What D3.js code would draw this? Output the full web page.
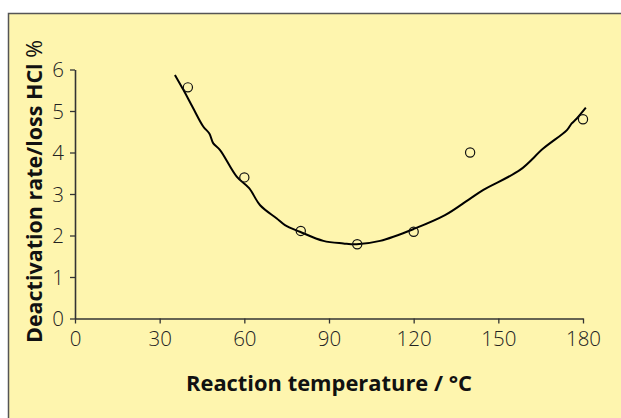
<!DOCTYPE html>
<html>
<head>
<meta charset="utf-8">
<script src="https://cdn.jsdelivr.net/npm/d3@7"></script>
<style>
  html, body { margin: 0; padding: 0; background: #ffffff; }
  svg { display: block; }
</style>
</head>
<body>
<div id="chart"></div>
<script>
// ---- data ----
const xTicks = [0, 30, 60, 90, 120, 150, 180];
const yTicks = [0, 1, 2, 3, 4, 5, 6];
const measuredTemp = [40, 60, 80, 100, 120, 140, 180];
const measuredLoss = [5.57, 3.40, 2.11, 1.79, 2.09, 4.00, 4.80];
const curveTemp = [35.4, 38.4, 41.7, 45.5, 47.6, 49.0, 51.4, 57.3, 61.7, 65.6, 71.5, 74.4, 79.7, 88.0, 95.1, 99.8, 108.1, 120.5, 131.1, 139.4, 144.7, 157.7, 166.0, 174.3, 176.0, 177.8, 181.0];
const curveLoss = [5.87, 5.51, 5.09, 4.62, 4.46, 4.22, 4.06, 3.42, 3.14, 2.73, 2.41, 2.25, 2.09, 1.87, 1.81, 1.79, 1.87, 2.17, 2.49, 2.86, 3.10, 3.58, 4.10, 4.54, 4.70, 4.82, 5.08];
const xTitle = "Reaction temperature / °C";
const yTitleBold = "Deactivation rate/loss HCl";
const yTitleRest = " %";

// ---- layout ----
const W = 621, H = 418;
const svg = d3.select("#chart").append("svg").attr("width", W).attr("height", H);

svg.append("rect")
  .attr("x", 8.5).attr("y", 13.5)
  .attr("width", W + 10).attr("height", H + 10)
  .attr("fill", "#fef5ae")
  .attr("stroke", "#555555").attr("stroke-width", 1.5);

const x = d3.scaleLinear().domain([0, 180]).range([75, 583]);
const y = d3.scaleLinear().domain([0, 6]).range([318.5, 69.5]);

const font = "'Open Sans', 'Noto Sans', sans-serif";
const axisColor = "#333333";

// x axis
const gx = svg.append("g").attr("transform", `translate(0,${y(0)})`)
  .call(d3.axisBottom(x).tickValues(xTicks).tickFormat(d3.format("d"))
    .tickSize(5).tickPadding(8).tickSizeOuter(0));
// y axis
const gy = svg.append("g").attr("transform", `translate(${x(0)},0)`)
  .call(d3.axisLeft(y).tickValues(yTicks).tickFormat(d3.format("d"))
    .tickSize(5).tickPadding(6).tickSizeOuter(0));

[gx, gy].forEach(g => {
  g.select(".domain").attr("stroke", axisColor).attr("stroke-width", 1.6);
  g.selectAll(".tick line").attr("stroke", axisColor).attr("stroke-width", 1.3);
  g.selectAll(".tick text")
    .attr("fill", "#222222")
    .style("font-family", font)
    .style("font-weight", 300)
    .style("font-size", "20.5px");
});
gy.selectAll(".tick text").attr("dy", "0.36em");

// fitted curve
const line = d3.line()
  .x(d => x(d[0])).y(d => y(d[1]))
  .curve(d3.curveCatmullRom.alpha(0.5));
svg.append("path")
  .datum(curveTemp.map((t, i) => [t, curveLoss[i]]))
  .attr("d", line)
  .attr("fill", "none")
  .attr("stroke", "#000000")
  .attr("stroke-width", 2);

// measured points
svg.selectAll("circle.pt")
  .data(measuredTemp.map((t, i) => [t, measuredLoss[i]]))
  .enter().append("circle")
  .attr("class", "pt")
  .attr("cx", d => x(d[0])).attr("cy", d => y(d[1]))
  .attr("r", 4.6)
  .attr("fill", "none")
  .attr("stroke", "#111111")
  .attr("stroke-width", 1.2);

// axis titles
svg.append("text")
  .attr("x", 329).attr("y", 391)
  .attr("text-anchor", "middle")
  .attr("textLength", 286)
  .attr("lengthAdjust", "spacingAndGlyphs")
  .style("font-family", font)
  .style("font-weight", 700)
  .style("font-size", "21px")
  .attr("fill", "#111111")
  .text(xTitle);

const yt = svg.append("text")
  .attr("transform", "translate(42,191.5) rotate(-90)")
  .attr("text-anchor", "middle")
  .attr("textLength", 303)
  .attr("lengthAdjust", "spacingAndGlyphs")
  .style("font-family", font)
  .style("font-size", "21px")
  .attr("fill", "#111111");
yt.append("tspan").style("font-weight", 700).text(yTitleBold);
yt.append("tspan").style("font-weight", 400).text(yTitleRest);
</script>
</body>
</html>
